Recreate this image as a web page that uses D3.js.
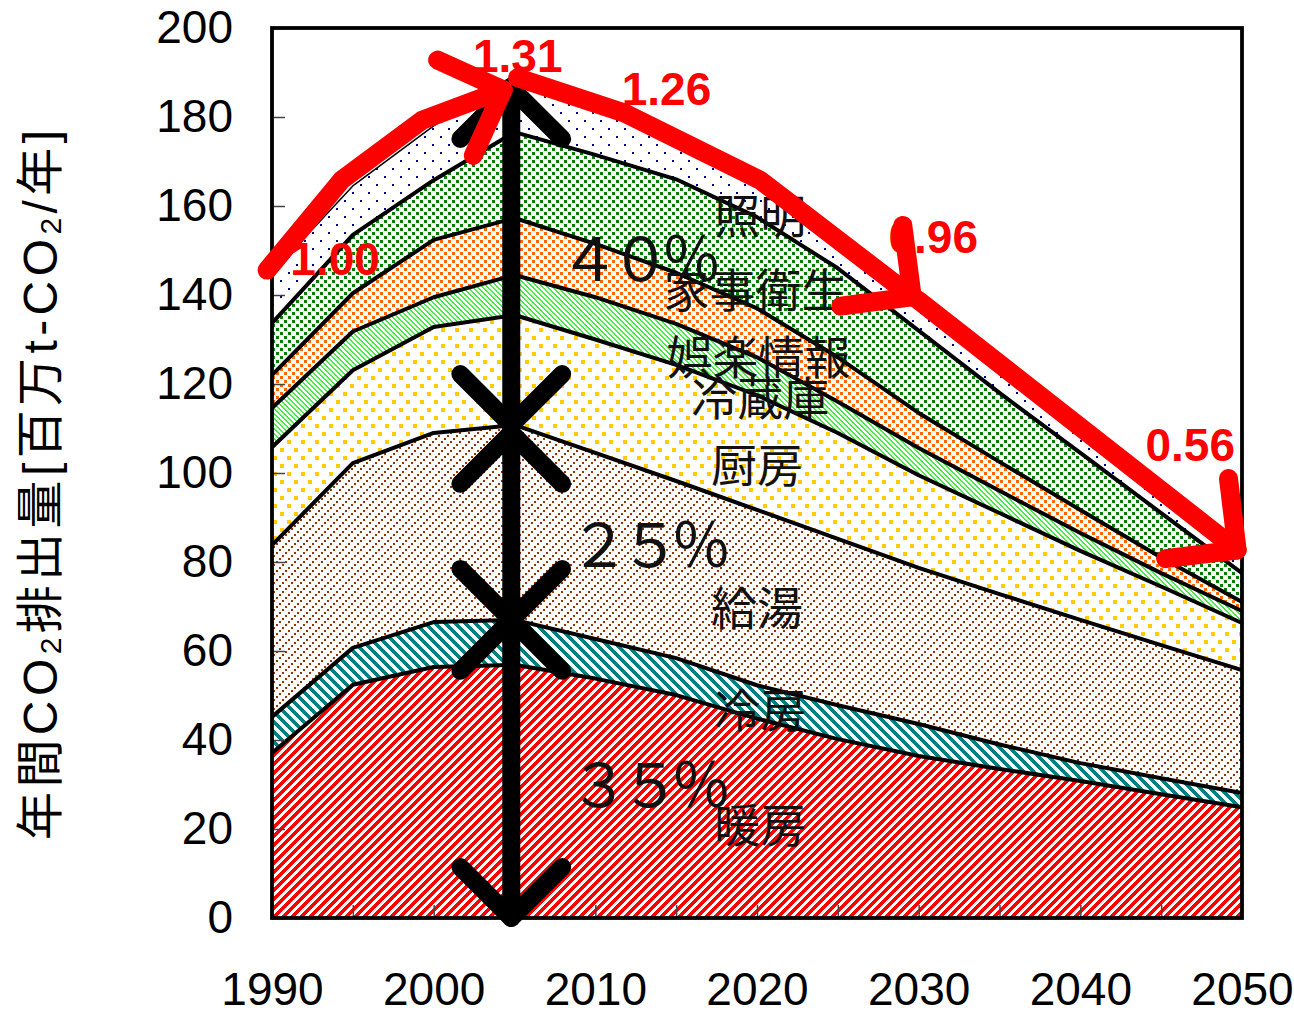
<!DOCTYPE html>
<html>
<head>
<meta charset="utf-8">
<script src="https://cdn.jsdelivr.net/npm/d3@7"></script>
<style>
  body { margin: 0; background: #fff; }
  svg { display: block; }
</style>
</head>
<body>
<svg id="chart" width="1294" height="1016"></svg>
<script>
// ---- data: household CO2 emissions by end use [million t-CO2/year] ----
const years = [1990, 1995, 2000, 2005, 2010, 2015, 2020, 2025, 2030, 2035, 2040, 2045, 2050];
const categories = ["暖房", "冷房", "給湯", "厨房", "冷蔵庫", "娯楽情報", "家事衛生", "照明"];
const heating       = [37.1, 52.4, 56.4, 56.9, 53.8, 50.1, 44.8, 40.2, 36.4, 33.5, 30.8, 27.8, 24.9];
const cooling       = [ 8.1,  8.3, 10.1, 10.1,  8.9,  8.3,  7.5,  7.6,  7.2,  5.5,  4.0,  3.6,  3.2];
const hotWater      = [38.6, 41.5, 42.5, 43.8, 41.8, 39.8, 39.4, 37.4, 35.1, 33.8, 32.2, 29.9, 27.6];
const kitchen       = [22.0, 20.9, 23.8, 24.7, 25.5, 26.1, 25.8, 23.8, 20.8, 18.2, 15.5, 13.2, 10.6];
const fridge        = [ 8.8,  8.7,  6.7,  9.0,  9.5,  9.2,  8.5,  7.0,  6.1,  5.0,  4.0,  3.0,  2.7];
const entertainment = [ 7.4,  8.6, 12.9, 12.8, 12.0, 11.5, 11.0, 10.0,  7.9,  6.5,  5.2,  3.5,  2.0];
const housework     = [11.7, 13.1, 13.4, 19.3, 20.0, 21.0, 20.5, 20.0, 18.5, 15.5, 12.8, 10.0,  6.5];
const lighting      = [11.3, 11.0, 12.2, 12.9, 11.2, 10.5, 10.0,  8.0,  7.2,  6.5,  5.5,  4.5,  3.7];
const seriesValues  = [heating, cooling, hotWater, kitchen, fridge, entertainment, housework, lighting];

const yTickValues = [0, 20, 40, 60, 80, 100, 120, 140, 160, 180, 200];
const xTickValues = [1990, 1995, 2000, 2005, 2010, 2015, 2020, 2025, 2030, 2035, 2040, 2045, 2050];
const xTickLabels = ["1990", "2000", "2010", "2020", "2030", "2040", "2050"];

// years whose total is labelled as a ratio to 1990
const ratioYears = [1990, 2005, 2010, 2030, 2050];
// share of the 2005 total in each bracket (top / middle / bottom)
const shareLabels = ["４０％", "２５％", "３５％"];

// ---- layout ----
const plot = { left: 272, right: 1242, top: 28, bottom: 918 };

const svg = d3.select("#chart");
const x = d3.scaleLinear().domain([1990, 2050]).range([plot.left, plot.right]);
const y = d3.scaleLinear().domain([0, 200]).range([plot.bottom, plot.top]);

// table for the stack layout
const table = years.map((yr, i) => {
  const row = { year: yr };
  categories.forEach((c, k) => row[c] = seriesValues[k][i]);
  return row;
});
const stacked = d3.stack().keys(categories)(table);
const totals = table.map(r => d3.sum(categories, c => r[c]));
const totalAt = yr => totals[years.indexOf(yr)];
const topOf = (cat, yr) => stacked[categories.indexOf(cat)][years.indexOf(yr)][1];

// ---- pixel fill patterns (hatches, dotted diagonals and dot grids) ----
const defs = svg.append("defs");
const mod = (a, n) => ((a % n) + n) % n;
function bitmap(id, color, w, h, on) {
  const p = defs.append("pattern").attr("id", id)
    .attr("patternUnits", "userSpaceOnUse")
    .attr("width", w).attr("height", h);
  p.append("rect").attr("width", w).attr("height", h).attr("fill", "#fff");
  for (let j = 0; j < h; j++) {
    let i = 0;
    while (i < w) {
      if (on(i, j)) {
        let k = i;
        while (k < w && on(k, j)) k++;
        p.append("rect").attr("x", i).attr("y", j)
          .attr("width", k - i).attr("height", 1)
          .attr("fill", color).attr("shape-rendering", "crispEdges");
        i = k;
      } else i++;
    }
  }
}
const squareAt = (i, j, x0, y0, s) => i >= x0 && i < x0 + s && j >= y0 && j < y0 + s;
// squares along "/" and "\" diagonals of an 8px tile
const upDots   = s => (i, j) => squareAt(i, j, 4, 0, s) || squareAt(i, j, 0, 4, s);
const downDots = s => (i, j) => squareAt(i, j, 0, 0, s) || squareAt(i, j, 4, 4, s);
// finer dotted "/" diagonals on a 9px tile
const fineUpDots = (i, j) => squareAt(i, j, 0, 0, 2) || squareAt(i, j, 6, 3, 2) || squareAt(i, j, 3, 6, 2);

bitmap("pHeat",    "#ff0000", 9, 9,   (i, j) => mod(i + j, 9) < 5);
bitmap("pCool",    "#008080", 10, 10, (i, j) => mod(i - j, 10) < 5);
bitmap("pWater",   "#993300", 9, 9,   fineUpDots);
bitmap("pKitchen", "#ffcc00", 14, 16, (i, j) => squareAt(i, j, 0, 0, 4) || squareAt(i, j, 7, 8, 4));
bitmap("pFridge",  "#44ee44", 5, 5,   (i, j) => mod(i - j, 5) < 2);
bitmap("pEnt",     "#ff6600", 8, 8,   downDots(3));
bitmap("pHouse",   "#008000", 8, 8,   upDots(3));
bitmap("pLight",   "#000080", 16, 16, (i, j) => squareAt(i, j, 0, 0, 2) || squareAt(i, j, 8, 8, 2));
const fills = ["pHeat", "pCool", "pWater", "pKitchen", "pFridge", "pEnt", "pHouse", "pLight"];

// ---- stacked areas ----
const area = d3.area()
  .x(d => x(d.data.year))
  .y0(d => y(d[0]))
  .y1(d => y(d[1]));
const topLine = d3.line()
  .x(d => x(d.data.year))
  .y(d => y(d[1]));

const gAreas = svg.append("g");
gAreas.selectAll("path.layer").data(stacked).join("path")
  .attr("class", "layer")
  .attr("d", area)
  .attr("fill", (d, i) => `url(#${fills[i]})`);
gAreas.selectAll("path.edge").data(stacked).join("path")
  .attr("class", "edge")
  .attr("d", topLine)
  .attr("fill", "none")
  .attr("stroke", "#000")
  .attr("stroke-width", (d, i) => i === categories.length - 1 ? 1.5 : 4)
  .attr("stroke-linejoin", "round");

// ---- axes ----
const axisFont = "'Liberation Sans', Arial, sans-serif";
const gy = svg.append("g").attr("transform", `translate(${plot.left},0)`)
  .call(d3.axisLeft(y).tickValues(yTickValues).tickSize(-13).tickPadding(39));
gy.select(".domain").remove();
gy.selectAll(".tick line").attr("stroke", "#444").attr("stroke-width", 1.5);
gy.selectAll(".tick text").attr("font-family", axisFont).attr("font-size", 46).attr("fill", "#000");

const gx = svg.append("g").attr("transform", `translate(0,${plot.bottom})`)
  .call(d3.axisBottom(x).tickValues(xTickValues).tickSize(-13).tickPadding(54)
    .tickFormat(d => xTickLabels.includes(String(d)) ? String(d) : ""));
gx.select(".domain").remove();
gx.selectAll(".tick line").attr("stroke", "#444").attr("stroke-width", 1.5);
gx.selectAll(".tick text").attr("font-family", axisFont).attr("font-size", 46).attr("fill", "#000");

svg.append("rect")
  .attr("x", plot.left).attr("y", plot.top)
  .attr("width", plot.right - plot.left).attr("height", plot.bottom - plot.top)
  .attr("fill", "none").attr("stroke", "#000").attr("stroke-width", 3.8);

// y-axis title
const yTitle = svg.append("text")
  .attr("transform", "translate(40,485) rotate(-90)")
  .attr("text-anchor", "middle")
  .attr("dominant-baseline", "central")
  .attr("font-family", "'Liberation Sans', 'Noto Sans CJK JP', sans-serif")
  .attr("font-size", 48)
  .attr("textLength", 710).attr("lengthAdjust", "spacing");
yTitle.append("tspan").text("年間CO");
yTitle.append("tspan").attr("font-size", 30).attr("dy", 10).text("2");
yTitle.append("tspan").attr("dy", -10).text("排出量[百万t-CO");
yTitle.append("tspan").attr("font-size", 30).attr("dy", 10).text("2");
yTitle.append("tspan").attr("dy", -10).text("/年]");

// ---- in-plot labels ----
const jpFont = "'Noto Sans CJK JP', sans-serif";
const catLabelPos = [
  [2020.2, 21.6], [2020.2, 47.4], [2020.0, 70.3], [2020.0, 102.5],
  [2020.2, 117.6], [2020.1, 126.8], [2019.9, 141.8], [2020.2, 158.4]
];
svg.append("g").selectAll("text").data(categories).join("text")
  .attr("x", (d, i) => x(catLabelPos[i][0]))
  .attr("y", (d, i) => y(catLabelPos[i][1]))
  .attr("text-anchor", "middle")
  .attr("dominant-baseline", "central")
  .attr("font-family", jpFont)
  .attr("font-size", 46)
  .attr("fill", "#111")
  .text(d => d);

const sharePos = [[2012.8, 149.0], [2013.4, 84.9], [2013.4, 31.0]];
svg.append("g").selectAll("text").data(shareLabels).join("text")
  .attr("x", (d, i) => x(sharePos[i][0]))
  .attr("y", (d, i) => y(sharePos[i][1]))
  .attr("text-anchor", "middle")
  .attr("dominant-baseline", "central")
  .attr("font-family", jpFont)
  .attr("font-size", 60)
  .attr("textLength", 162).attr("lengthAdjust", "spacing")
  .attr("fill", "#111")
  .text(d => d);

// ratio of each year's total to 1990
const ratioPos = { 1990: [1993.9, 144.5], 2005: [2005.2, 190.1], 2010: [2014.4, 182.7], 2030: [2030.9, 149.4], 2050: [2046.8, 102.7] };
svg.append("g").selectAll("text").data(ratioYears).join("text")
  .attr("x", d => x(ratioPos[d][0]))
  .attr("y", d => y(ratioPos[d][1]))
  .attr("text-anchor", "middle")
  .attr("font-family", axisFont)
  .attr("font-weight", "bold")
  .attr("font-size", 46)
  .attr("fill", "#ff0000")
  .text(d => (totalAt(d) / totalAt(1990)).toFixed(2));

// ---- arrows ----
function headPoints(tip, from, len, spread) {
  const a = Math.atan2(from[1] - tip[1], from[0] - tip[0]);
  return [a - spread, a + spread].map(t => [tip[0] + len * Math.cos(t), tip[1] + len * Math.sin(t)]);
}
function drawArrow(g, pts, bothEnds) {
  const line = d3.line();
  g.append("path").attr("d", line(pts));
  const ends = [[pts[pts.length - 1], pts[pts.length - 2]]];
  if (bothEnds) ends.push([pts[0], pts[1]]);
  ends.forEach(([tip, from]) => {
    const [b1, b2] = headPoints(tip, from, 72, Math.PI / 4);
    g.append("path").attr("d", line([b1, tip, b2]));
  });
}

// black double arrows at 2005 splitting the total into three brackets
const gBlack = svg.append("g")
  .attr("fill", "none").attr("stroke", "#000").attr("stroke-width", 18)
  .attr("stroke-linecap", "round").attr("stroke-linejoin", "round");
const xa = x(2004.8);
const brackets = [
  [totalAt(2005) - 3, topOf("給湯", 2005)],
  [topOf("給湯", 2005) - 1.8, topOf("冷房", 2005)],
  [topOf("冷房", 2005), 0]
];
brackets.forEach(([hi, lo]) => drawArrow(gBlack, [[xa, y(hi)], [xa, y(lo)]], true));

// red trend arrows along the total
const redPaths = [
  [[1989.7, 145.6], [1994.3, 165.8], [1999.3, 179.3], [2004.3, 186.1]],
  [[2005.2, 188.8], [2011.8, 180.9], [2020.2, 165.8], [2029.6, 139.6]],
  [[2029.95, 138.9], [2049.7, 82.7]]
];
const gRed = svg.append("g")
  .attr("fill", "none").attr("stroke", "#ff0000").attr("stroke-width", 19)
  .attr("stroke-linecap", "round").attr("stroke-linejoin", "round");
redPaths.forEach(p => drawArrow(gRed, p.map(([a, b]) => [x(a), y(b)]), false));
</script>
</body>
</html>
